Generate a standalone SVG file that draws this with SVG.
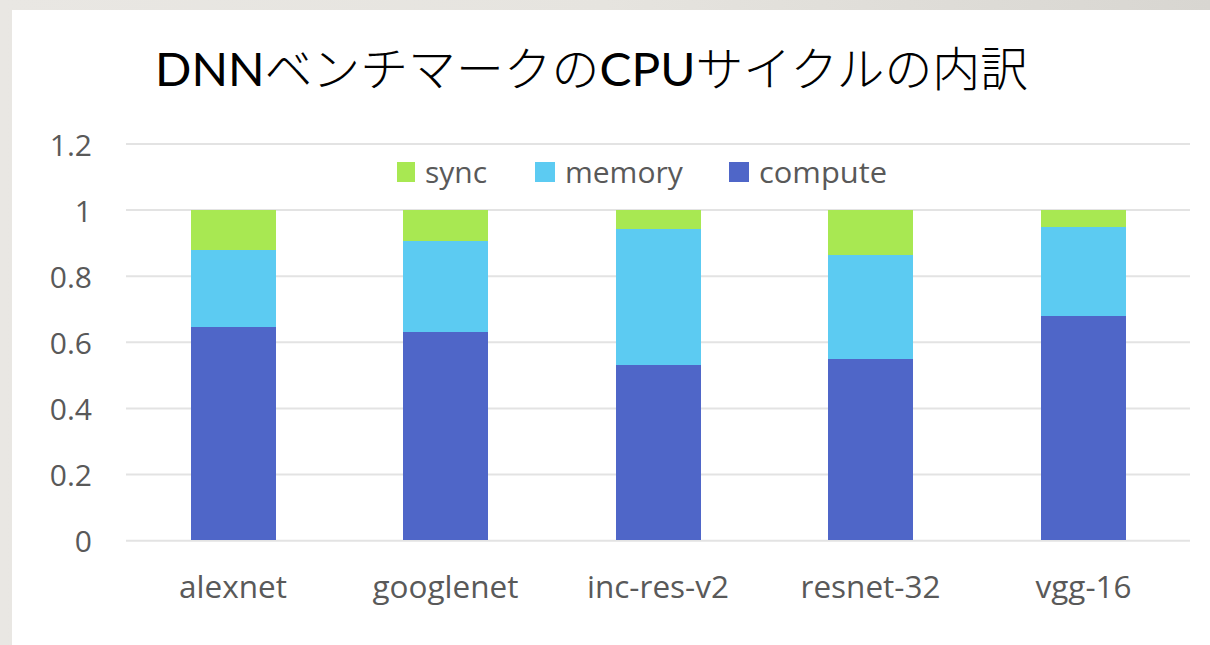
<svg xmlns="http://www.w3.org/2000/svg" width="1210" height="645" viewBox="0 0 1210 645">
<defs>
<linearGradient id="topg" x1="0" y1="0" x2="1" y2="0">
<stop offset="0" stop-color="#e9e7e3"/>
<stop offset="0.5" stop-color="#e6e4df"/>
<stop offset="1" stop-color="#d8d6d1"/>
</linearGradient>
</defs>
<style>
.grid{stroke:#e3e3e3;stroke-width:2;fill:none}
.ax{font-family:"Open Sans","Noto Sans",sans-serif;font-size:30px;fill:#595959}
.ylab{text-anchor:end}
.xlab{text-anchor:middle;font-size:31.5px}
.sync{fill:#a8e852}
.mem{fill:#5ccbf2}
.comp{fill:#4f66c8}
.title{font-family:Lato,"Noto Sans CJK JP",sans-serif;font-size:47px;fill:#000}
</style>
<rect x="0" y="0" width="1210" height="645" fill="url(#topg)"/>
<rect x="12" y="10" width="1198" height="635" fill="#ffffff"/>
<g id="title">
<text class="title" x="155" y="86" textLength="873" lengthAdjust="spacingAndGlyphs">DNN<tspan font-family="'Noto Sans CJK JP',sans-serif" font-weight="300">ベンチマークの</tspan>CPU<tspan font-family="'Noto Sans CJK JP',sans-serif" font-weight="300">サイクルの内訳</tspan></text>
</g>
<g id="gridlines">
<line class="grid" x1="126" y1="144" x2="1190" y2="144"/>
<line class="grid" x1="126" y1="210.1" x2="1190" y2="210.1"/>
<line class="grid" x1="126" y1="276.2" x2="1190" y2="276.2"/>
<line class="grid" x1="126" y1="342.3" x2="1190" y2="342.3"/>
<line class="grid" x1="126" y1="408.4" x2="1190" y2="408.4"/>
<line class="grid" x1="126" y1="474.5" x2="1190" y2="474.5"/>
<line class="grid" x1="126" y1="540.7" x2="1190" y2="540.7"/>
</g>
<g id="y-axis" class="ax ylab">
<text x="92" y="156">1.2</text>
<text x="92" y="222">1</text>
<text x="92" y="288">0.8</text>
<text x="92" y="354">0.6</text>
<text x="92" y="420">0.4</text>
<text x="92" y="486">0.2</text>
<text x="92" y="552">0</text>
</g>
<g id="legend" class="ax">
<rect class="sync" x="397" y="162" width="18" height="20"/>
<text x="425" y="183">sync</text>
<rect class="mem" x="535" y="162" width="20" height="20"/>
<text x="565" y="183">memory</text>
<rect class="comp" x="729" y="162" width="20" height="20"/>
<text x="759" y="183" textLength="128" lengthAdjust="spacingAndGlyphs">compute</text>
</g>
<g id="bar-alexnet">
<rect class="sync" x="191" y="210" width="85" height="40"/>
<rect class="mem" x="191" y="250" width="85" height="77"/>
<rect class="comp" x="191" y="327" width="85" height="213"/>
</g>
<g id="bar-googlenet">
<rect class="sync" x="403" y="210" width="85" height="31"/>
<rect class="mem" x="403" y="241" width="85" height="91"/>
<rect class="comp" x="403" y="332" width="85" height="208"/>
</g>
<g id="bar-inc-res-v2">
<rect class="sync" x="616" y="210" width="85" height="19"/>
<rect class="mem" x="616" y="229" width="85" height="136"/>
<rect class="comp" x="616" y="365" width="85" height="175"/>
</g>
<g id="bar-resnet-32">
<rect class="sync" x="828" y="210" width="85" height="45"/>
<rect class="mem" x="828" y="255" width="85" height="104"/>
<rect class="comp" x="828" y="359" width="85" height="181"/>
</g>
<g id="bar-vgg-16">
<rect class="sync" x="1041" y="210" width="85" height="17"/>
<rect class="mem" x="1041" y="227" width="85" height="89"/>
<rect class="comp" x="1041" y="316" width="85" height="224"/>
</g>
<g id="x-axis" class="ax xlab">
<text x="233" y="598">alexnet</text>
<text x="445.5" y="598">googlenet</text>
<text x="658" y="598">inc-res-v2</text>
<text x="870.5" y="598">resnet-32</text>
<text x="1083.5" y="598">vgg-16</text>
</g>
</svg>
